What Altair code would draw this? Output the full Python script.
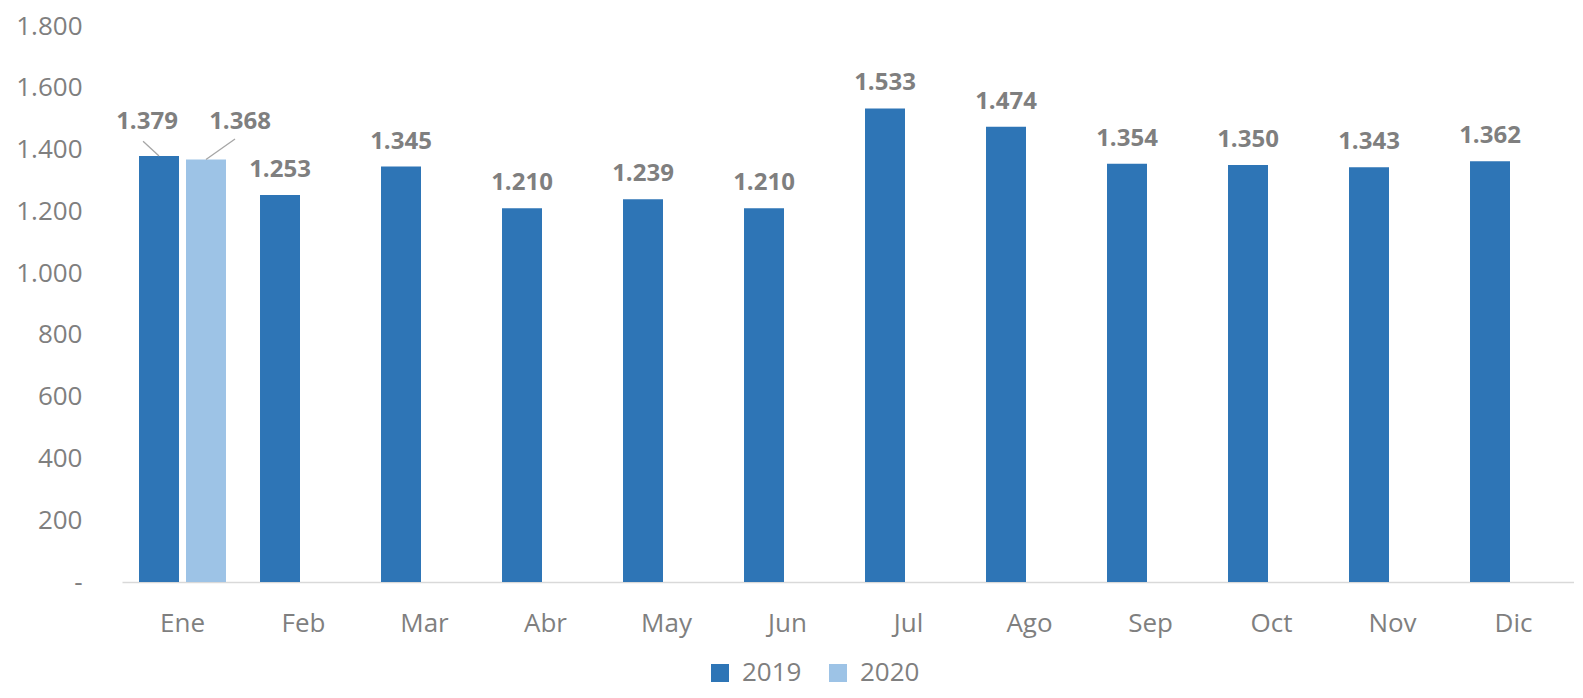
import altair as alt
import pandas as pd

months = ["Ene", "Feb", "Mar", "Abr", "May", "Jun", "Jul", "Ago", "Sep", "Oct", "Nov", "Dic"]
values_2019 = [1379, 1253, 1345, 1210, 1239, 1210, 1533, 1474, 1354, 1350, 1343, 1362]
values_2020 = [1368]  # only January available
years = ["2019", "2020"]
colors = ["#2E75B6", "#9DC3E6"]

GRAY = "#7F7F7F"
FONT = "Open Sans"

rows = []
for i, (m, v) in enumerate(zip(months, values_2019)):
    rows.append({"month": m, "idx": i, "year": "2019", "value": v})
for i, v in enumerate(values_2020):
    rows.append({"month": months[i], "idx": i, "year": "2020", "value": v})
df = pd.DataFrame(rows)
df["label"] = df["value"].map(lambda v: f"{v:,}".replace(",", "."))

# leader lines for January labels (offsets expressed relative to the category band)
lead_rows = []
lead_spec = {"2019": (-0.194, -0.326, 48), "2020": (0.194, 0.434, 66)}
for _, r in df[df["idx"] == 0].iterrows():
    off_bar, off_lab, rise = lead_spec[r["year"]]
    lead_rows.append({"key": r["year"], "order": 0, "xq": r["idx"] + off_bar, "value": r["value"]})
    lead_rows.append({"key": r["year"], "order": 1, "xq": r["idx"] + off_lab, "value": r["value"] + rise})
lead_df = pd.DataFrame(lead_rows)

W, H = 1452, 556

x_enc = alt.X("month:N", sort=months,
              scale=alt.Scale(paddingInner=0, paddingOuter=0),
              axis=alt.Axis(title=None, labelAngle=0, labelFontSize=26, labelColor=GRAY,
                            labelFont=FONT, ticks=False, domainColor="#D9D9D9",
                            domainWidth=1.5, labelPadding=28))
xoff_enc = alt.XOffset("year:N", scale=alt.Scale(domain=years, paddingInner=0.149, paddingOuter=0.362))
y_enc = alt.Y("value:Q", scale=alt.Scale(domain=[0, 1800], nice=False),
              axis=alt.Axis(title=None, values=list(range(0, 1801, 200)), grid=False, domain=False,
                            ticks=False, labelFontSize=26, labelColor=GRAY, labelFont=FONT,
                            labelPadding=40,
                            labelExpr="datum.value == 0 ? '-\u00a0\u00a0\u00a0' : replace(format(datum.value, ','), ',', '.')"))

bars = alt.Chart(df).mark_bar().encode(
    x=x_enc, xOffset=xoff_enc, y=y_enc,
    color=alt.Color("year:N", scale=alt.Scale(domain=years, range=colors),
                    legend=alt.Legend(title=None, orient="none", direction="horizontal",
                                      legendX=585, legendY=634, symbolType="square",
                                      symbolSize=324, symbolStrokeWidth=0, labelFontSize=26,
                                      labelColor=GRAY, labelFont=FONT, columnPadding=23,
                                      labelOffset=9, padding=0))
)

text_common = dict(fontSize=24, fontWeight="bold", color=GRAY, font=FONT, baseline="alphabetic")

labels_rest = alt.Chart(df).transform_filter("datum.idx != 0").mark_text(dy=-18, **text_common).encode(
    x=alt.X("month:N", sort=months), xOffset=alt.XOffset("year:N"), y="value:Q", text="label:N")
labels_ene19 = alt.Chart(df).transform_filter("datum.idx == 0 && datum.year == '2019'").mark_text(
    dx=-12, dy=-27, **text_common).encode(
    x=alt.X("month:N", sort=months), xOffset=alt.XOffset("year:N"), y="value:Q", text="label:N")
labels_ene20 = alt.Chart(df).transform_filter("datum.idx == 0 && datum.year == '2020'").mark_text(
    dx=34, dy=-30, **text_common).encode(
    x=alt.X("month:N", sort=months), xOffset=alt.XOffset("year:N"), y="value:Q", text="label:N")

band_layer = alt.layer(bars, labels_rest, labels_ene19, labels_ene20)

leaders = alt.Chart(lead_df).mark_line(color="#A6A6A6", strokeWidth=1.3).encode(
    x=alt.X("xq:Q", scale=alt.Scale(domain=[-0.5, len(months) - 0.5], nice=False, zero=False), axis=None),
    y=alt.Y("value:Q"),
    detail="key:N", order="order:Q")

chart = alt.layer(band_layer, leaders).resolve_scale(x="independent").properties(
    width=W, height=H,
    autosize=alt.AutoSizeParams(type="none"),
    padding={"left": 114, "top": 18, "right": 0, "bottom": 108},
).configure_view(stroke=None)

chart.save("out.html", embed_options={"renderer": "svg", "actions": False})
